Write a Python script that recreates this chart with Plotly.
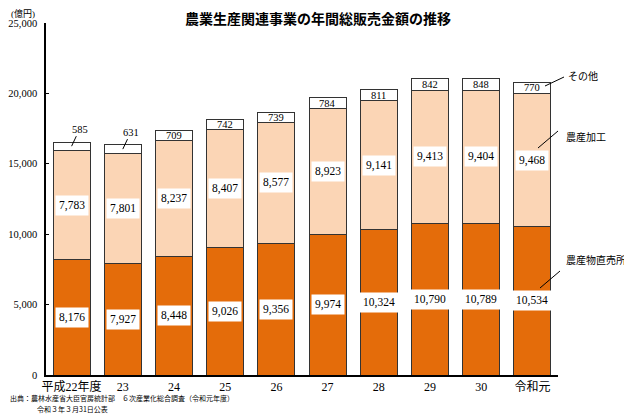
import plotly.graph_objects as go

# data (億円)
years = ['平成22年度', '23', '24', '25', '26', '27', '28', '29', '30', '令和元']
chokubai = [8176, 7927, 8448, 9026, 9356, 9974, 10324, 10790, 10789, 10534]
kakou = [7783, 7801, 8237, 8407, 8577, 8923, 9141, 9413, 9404, 9468]
sonota = [585, 631, 709, 742, 739, 784, 811, 842, 848, 770]

ORANGE = '#E46C0A'
PEACH = '#FBD5B5'
EDGE = '#333333'
SERIF = 'Liberation Serif, Noto Sans CJK JP'
GOTHIC = 'Noto Sans CJK JP'

# the page body has an 8px margin, so the figure is drawn 8px smaller
W, H = 624, 411

fig = go.Figure()
for name, vals, col in [('農産物直売所', chokubai, ORANGE),
                        ('農産加工', kakou, PEACH),
                        ('その他', sonota, 'white')]:
    fig.add_trace(go.Bar(
        x=years, y=vals, name=name,
        marker=dict(color=col, line=dict(color=EDGE, width=1)),
        showlegend=False, hoverinfo='skip'
    ))

annotations = []
for i, yr in enumerate(years):
    a, b, c = chokubai[i], kakou[i], sonota[i]
    # white boxed labels in the two big segments
    for val, mid in [(a, a / 2), (b, a + b / 2)]:
        annotations.append(dict(
            x=i, y=mid, text=f'{val:,}', showarrow=False,
            font=dict(family=SERIF, size=11.5, color='black'),
            bgcolor='white', borderpad=3
        ))
    total = a + b + c
    if i < 2:
        # small top segment: label above with leader line
        annotations.append(dict(
            x=i, y=total - c / 2, text=f'{c:,}', showarrow=True,
            arrowhead=0, arrowwidth=1, arrowcolor='black',
            ax=8, ay=-17, standoff=0,
            font=dict(family=SERIF, size=10.5, color='black')
        ))
    else:
        annotations.append(dict(
            x=i, y=a + b + c / 2, text=f'{c:,}', showarrow=False,
            font=dict(family=SERIF, size=10.5, color='black')
        ))


# paper coords from pixel positions in the page (plot area 46..558 x 23..375)
def pp(px, py):
    return (px - 46) / 512, (375 - py) / 352


# series labels on the right
for text, px, py in [('その他', 566, 68), ('農産加工', 564, 129), ('農産物直売所', 564, 268)]:
    x, y = pp(px, py)
    annotations.append(dict(
        xref='paper', yref='paper', x=x, y=y,
        text=text, showarrow=False, xanchor='left',
        font=dict(family=SERIF, size=10, color='black')
    ))

for text, px, py, fam, size in [('(億円)', 9, 14, SERIF, 9),
                                ('出典：農林水産省大臣官房統計部　６次産業化総合調査（令和元年度）', 8, 398, GOTHIC, 7),
                                ('令和３年３月31日公表', 35, 409, GOTHIC, 7)]:
    x, y = pp(px, py)
    annotations.append(dict(
        xref='paper', yref='paper', x=x, y=y, text=text,
        showarrow=False, xanchor='left', yanchor='middle',
        font=dict(family=fam, size=size, color='black')
    ))

shapes = []
for (x0, y0), (x1, y1) in [((545, 86), (564, 77)),
                           ((538, 148), (558, 131)),
                           ((540, 288), (560, 271))]:
    p0, p1 = pp(x0, y0), pp(x1, y1)
    shapes.append(dict(type='line', xref='paper', yref='paper',
                       x0=p0[0], y0=p0[1], x1=p1[0], y1=p1[1],
                       line=dict(color='black', width=1)))

fig.update_layout(
    barmode='stack', bargap=0.28,
    width=W, height=H,
    margin=dict(l=38, r=74, t=15, b=44),
    plot_bgcolor='white', paper_bgcolor='white',
    title=dict(text='<b>農業生産関連事業の年間総販売金額の推移</b>',
               x=310 / W, xanchor='center', y=1 - 11 / H, yanchor='middle',
               font=dict(family=GOTHIC, size=14, color='black')),
    xaxis=dict(type='category', automargin=False,
               showline=True, linecolor='black', linewidth=1.5,
               ticks='', tickangle=0,
               tickfont=dict(family=SERIF, size=12, color='black')),
    yaxis=dict(range=[0, 25000], tickvals=[0, 5000, 10000, 15000, 20000, 25000],
               tickformat=',d', showgrid=False, zeroline=False, automargin=False,
               showline=True, linecolor='black', linewidth=1.5,
               ticks='inside', ticklen=3, tickcolor='black',
               ticklabelstandoff=5,
               tickfont=dict(family=SERIF, size=10.5, color='black')),
    annotations=annotations, shapes=shapes,
)

fig.write_html('out.html')
